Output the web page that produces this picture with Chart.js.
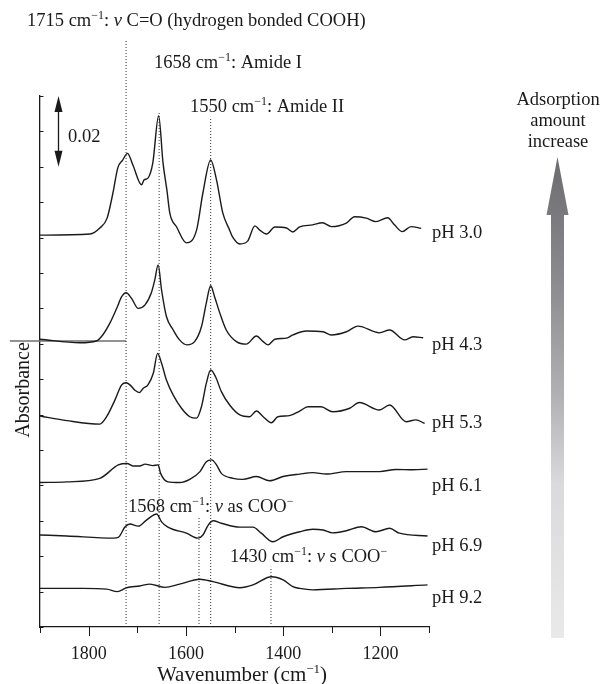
<!DOCTYPE html>
<html><head><meta charset="utf-8">
<script src="https://cdn.jsdelivr.net/npm/chart.js@4.4.1/dist/chart.umd.min.js"></script>
<style>html,body{margin:0;padding:0;background:#fff;}canvas{display:block;}</style>
</head><body>
<canvas id="c" width="603" height="684"></canvas>
<script>
// ---- data (wavenumber cm-1, absorbance) ----
const wn30 = [1900,1797,1777,1762,1750,1740,1730,1720,1709,1691,1686,1678,1668,1656,1647,1639,1633,1619,1599,1578,1565,1549,1537,1524,1510,1504,1489,1473,1458,1448,1434,1417,1393,1380,1366,1339,1319,1301,1270,1253,1229,1209,1185,1171,1155,1137,1116];
const ab30 = [0.1107,0.1110,0.1127,0.1155,0.1226,0.1297,0.1319,0.1338,0.1305,0.1249,0.1263,0.1268,0.1311,0.1444,0.1311,0.1234,0.1169,0.1130,0.1085,0.1121,0.1226,0.1319,0.1263,0.1169,0.1121,0.1102,0.1082,0.1090,0.1133,0.1121,0.1110,0.1130,0.1127,0.1116,0.1130,0.1136,0.1142,0.1131,0.1141,0.1159,0.1155,0.1145,0.1156,0.1136,0.1117,0.1131,0.1126];
const wn43 = [1900,1818,1784,1771,1756,1742,1732,1723,1712,1698,1684,1671,1664,1657,1650,1640,1626,1613,1598,1582,1568,1558,1549,1541,1530,1517,1496,1476,1455,1441,1431,1417,1393,1380,1352,1318,1301,1270,1246,1202,1181,1150,1133,1112];
const ab43 = [0.0813,0.0803,0.0808,0.0825,0.0859,0.0901,0.0933,0.0944,0.0929,0.0900,0.0910,0.0944,0.0980,0.1023,0.0952,0.0877,0.0839,0.0811,0.0797,0.0806,0.0848,0.0915,0.0964,0.0933,0.0886,0.0839,0.0806,0.0799,0.0822,0.0806,0.0797,0.0813,0.0816,0.0825,0.0836,0.0834,0.0825,0.0834,0.0850,0.0831,0.0839,0.0811,0.0820,0.0817];
const wn53 = [1900,1845,1777,1763,1746,1732,1723,1715,1705,1696,1688,1678,1667,1658,1650,1640,1626,1609,1592,1578,1568,1558,1549,1539,1527,1510,1489,1469,1455,1441,1424,1411,1387,1366,1349,1322,1298,1263,1243,1202,1181,1147,1127,1109];
const ab53 = [0.0596,0.0583,0.0573,0.0594,0.0641,0.0684,0.0690,0.0684,0.0669,0.0662,0.0674,0.0684,0.0717,0.0773,0.0745,0.0698,0.0655,0.0618,0.0594,0.0590,0.0622,0.0688,0.0726,0.0707,0.0665,0.0627,0.0599,0.0594,0.0610,0.0594,0.0577,0.0594,0.0597,0.0610,0.0622,0.0622,0.0608,0.0618,0.0634,0.0613,0.0627,0.0580,0.0585,0.0575];
const wn61 = [1900,1845,1777,1739,1721,1709,1695,1684,1668,1657,1652,1637,1613,1592,1571,1558,1547,1537,1527,1503,1483,1455,1428,1400,1366,1339,1311,1270,1202,1168,1133,1103];
const ab61 = [0.0408,0.0410,0.0420,0.0458,0.0462,0.0455,0.0455,0.0460,0.0456,0.0458,0.0434,0.0410,0.0408,0.0417,0.0439,0.0467,0.0472,0.0458,0.0434,0.0420,0.0417,0.0425,0.0413,0.0425,0.0432,0.0436,0.0432,0.0439,0.0439,0.0445,0.0444,0.0446];
const wn69 = [1900,1845,1749,1739,1725,1715,1698,1681,1660,1650,1637,1599,1575,1565,1554,1544,1527,1489,1462,1445,1421,1400,1366,1339,1318,1298,1270,1239,1209,1181,1161,1103];
const ab69 = [0.0260,0.0257,0.0251,0.0253,0.0283,0.0291,0.0285,0.0302,0.0319,0.0297,0.0282,0.0265,0.0251,0.0260,0.0288,0.0300,0.0293,0.0282,0.0282,0.0265,0.0241,0.0255,0.0269,0.0276,0.0274,0.0266,0.0272,0.0283,0.0269,0.0279,0.0265,0.0257];
const wn92 = [1900,1811,1763,1741,1722,1695,1674,1643,1613,1571,1544,1489,1462,1424,1400,1380,1366,1339,1270,1202,1103];
const ab92 = [0.0109,0.0109,0.0107,0.0100,0.0111,0.0116,0.0121,0.0112,0.0121,0.0135,0.0128,0.0111,0.0119,0.0142,0.0133,0.0114,0.0109,0.0105,0.0109,0.0112,0.0119];

const seriesLabels = ['pH 3.0','pH 4.3','pH 5.3','pH 6.1','pH 6.9','pH 9.2'];
// peak-marker dotted lines: position and top end (absorbance units)
const markerWn  = [1723, 1655, 1549, 1573, 1425];
const markerTop = [0.1658, 0.1452, 0.1441, 0.0312, 0.0170];
// grey reference stroke crossing the absorbance axis
const refWn = [1962, 1723];
const refAb = [0.0808, 0.0808];
// axes
const xMin = 1100, xMax = 1900, xStep = 100, xLabelStep = 200;
const yMin = 0, yMax = 0.15, yStep = 0.01;
const scaleBarFrom = 0.15, scaleBarTo = 0.13, scaleBarWn = 1862;

const SERIF = '"Liberation Serif","Times New Roman",serif';
const INK = '#1a1a1a';
const FS = 18.5;
const pts = (w, a) => w.map((x, i) => ({x, y: a[i]}));

const traces = [[wn30,ab30],[wn43,ab43],[wn53,ab53],[wn61,ab61],[wn69,ab69],[wn92,ab92]];
const datasets = traces.map((t, i) => ({
  label: seriesLabels[i], data: pts(t[0], t[1]),
  borderColor: INK, borderWidth: 1.4, pointRadius: 0, fill: false,
  tension: 0.4, cubicInterpolationMode: 'monotone'
}));
markerWn.forEach((w, i) => datasets.push({
  label: 'marker' + i, data: [{x: w, y: 0}, {x: w, y: markerTop[i]}],
  borderColor: '#333', borderWidth: 1, borderDash: [1, 2], pointRadius: 0, clip: false, tension: 0
}));
datasets.push({label: 'ref', data: pts(refWn, refAb), borderColor: '#6e6e6e', borderWidth: 1.5, pointRadius: 0, clip: false, tension: 0});

function rich(ctx, parts, x, y, size, align) {
  const sup = Math.round(size * 0.64), rise = Math.round(size * 0.4);
  const font = p => (p[1] && p[1].includes('i') ? 'italic ' : '') + (p[1] && p[1].includes('s') ? sup : size) + 'px ' + SERIF;
  let w = 0;
  parts.forEach(p => { ctx.font = font(p); w += ctx.measureText(p[0]).width; });
  let cx = align === 'center' ? x - w / 2 : x;
  ctx.textAlign = 'left';
  parts.forEach(p => {
    ctx.font = font(p);
    ctx.fillText(p[0], cx, (p[1] && p[1].includes('s')) ? y - rise : y);
    cx += ctx.measureText(p[0]).width;
  });
}

const deco = {
  id: 'deco',
  afterDraw(chart) {
    const {ctx, scales: {x, y}, chartArea: a} = chart;
    ctx.save();
    ctx.strokeStyle = INK; ctx.fillStyle = INK; ctx.lineWidth = 1;
    // inward y ticks
    y.ticks.forEach(t => {
      const py = Math.round(y.getPixelForValue(t.value)) + 0.5;
      ctx.beginPath(); ctx.moveTo(a.left, py); ctx.lineTo(a.left + 3.5, py); ctx.stroke();
    });
    // outward x ticks, longer at labelled values
    x.ticks.forEach(t => {
      const px = Math.round(x.getPixelForValue(t.value)) + 0.5;
      const len = (t.value % xLabelStep === 0 && t.value !== xMin && t.value !== xMax) ? 9 : 6;
      ctx.beginPath(); ctx.moveTo(px, a.bottom); ctx.lineTo(px, a.bottom + len); ctx.stroke();
    });
    // 0.02 scale bar (double arrow)
    const ax = Math.round(x.getPixelForValue(scaleBarWn)) + 0.5;
    const y1 = y.getPixelForValue(scaleBarFrom), y2 = y.getPixelForValue(scaleBarTo);
    ctx.lineWidth = 1.3;
    ctx.beginPath(); ctx.moveTo(ax, y1 + 8); ctx.lineTo(ax, y2 - 8); ctx.stroke();
    ctx.beginPath(); ctx.moveTo(ax, y1); ctx.lineTo(ax - 4, y1 + 16); ctx.lineTo(ax + 4, y1 + 16); ctx.closePath(); ctx.fill();
    ctx.beginPath(); ctx.moveTo(ax, y2); ctx.lineTo(ax - 4, y2 - 16); ctx.lineTo(ax + 4, y2 - 16); ctx.closePath(); ctx.fill();

    ctx.textBaseline = 'alphabetic';
    ctx.fillStyle = INK;
    rich(ctx, [['0.02']], 68, 142, FS);
    rich(ctx, [['1715 cm'], ['\u22121', 's'], [': '], ['\u03bd', 'i'], [' C=O (hydrogen bonded COOH)']], 27, 26, FS);
    rich(ctx, [['1658 cm'], ['\u22121', 's'], [': Amide I']], 154, 68, FS);
    rich(ctx, [['1550 cm'], ['\u22121', 's'], [': Amide II']], 190, 112, FS);
    rich(ctx, [['1568 cm'], ['\u22121', 's'], [': '], ['\u03bd', 'i'], [' as COO'], ['\u2212', 's']], 128, 512, FS);
    rich(ctx, [['1430 cm'], ['\u22121', 's'], [': '], ['\u03bd', 'i'], [' s COO'], ['\u2212', 's']], 230, 562, FS);
    const phBase = [238, 350, 428, 491, 551, 603];
    seriesLabels.forEach((s, i) => rich(ctx, [[s]], 432, phBase[i], FS));
    // axis titles
    rich(ctx, [['Wavenumber (cm'], ['\u22121', 's'], [')']], 242, 681, 21, 'center');
    ctx.save();
    ctx.translate(29, 390); ctx.rotate(-Math.PI / 2);
    rich(ctx, [['Absorbance']], 0, 0, 20, 'center');
    ctx.restore();
    // adsorption arrow
    rich(ctx, [['Adsorption']], 558, 105, FS, 'center');
    rich(ctx, [['amount']], 558, 125.5, FS, 'center');
    rich(ctx, [['increase']], 558, 146.5, FS, 'center');
    const g = ctx.createLinearGradient(0, 157, 0, 638);
    g.addColorStop(0, '#6c6c70'); g.addColorStop(0.25, '#8a8a8e'); g.addColorStop(0.5, '#b2b2b5');
    g.addColorStop(0.68, '#dadadc'); g.addColorStop(1, '#e9e9ea');
    ctx.fillStyle = g;
    ctx.beginPath();
    ctx.moveTo(557.5, 157); ctx.lineTo(568.5, 215); ctx.lineTo(564, 215); ctx.lineTo(564, 638);
    ctx.lineTo(551, 638); ctx.lineTo(551, 215); ctx.lineTo(546.5, 215); ctx.closePath(); ctx.fill();
    ctx.restore();
  }
};

new Chart(document.getElementById('c'), {
  type: 'line',
  data: {datasets},
  options: {
    responsive: false, animation: false, devicePixelRatio: 1,
    layout: {padding: {left: 40, top: 96, right: 174, bottom: 0}},
    plugins: {legend: {display: false}, tooltip: {enabled: false}, title: {display: false}},
    elements: {line: {borderCapStyle: 'butt'}},
    scales: {
      x: {
        type: 'linear', reverse: true, min: xMin, max: xMax,
        afterFit(s) { s.height = 57; },
        ticks: {stepSize: xStep, autoSkip: false, maxRotation: 0, padding: 16, color: INK,
          font: {family: SERIF, size: 18},
          callback: v => (v % xLabelStep === 0 && v !== xMin && v !== xMax) ? String(v) : ''},
        grid: {display: true, drawOnChartArea: false, drawTicks: false},
        border: {display: true, color: INK, width: 1.3}
      },
      y: {
        type: 'linear', min: yMin, max: yMax,
        afterFit(s) { s.width = 0; },
        ticks: {display: false, stepSize: yStep},
        grid: {display: true, drawOnChartArea: false, drawTicks: false},
        border: {display: true, color: INK, width: 1.3}
      }
    }
  },
  plugins: [deco]
});
</script>
</body></html>
